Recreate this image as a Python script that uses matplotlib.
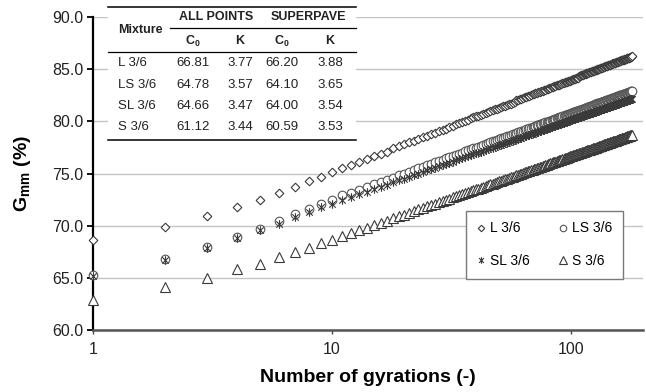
import matplotlib
matplotlib.use('Agg')
import matplotlib.pyplot as plt
from matplotlib.lines import Line2D
from matplotlib.patches import Rectangle
from matplotlib.path import Path

plt.rcParams['font.family'] = ['Liberation Sans', 'DejaVu Sans']
plt.rcParams['mathtext.fontset'] = 'custom'
plt.rcParams['mathtext.rm'] = 'Liberation Sans'
plt.rcParams['mathtext.bf'] = 'Liberation Sans:bold'
plt.rcParams['mathtext.it'] = 'Liberation Sans:italic'

# ---------------- data ----------------
gyrations = list(range(1, 181))

L36 = [68.6, 69.9, 70.9, 71.8, 72.5, 73.1, 73.7, 74.3, 74.7, 75.1, 75.5,
       75.8, 76.1, 76.4, 76.7, 76.9, 77.1, 77.4, 77.6, 77.8,
       78.0, 78.1, 78.3, 78.5, 78.6, 78.8, 78.9, 79.1, 79.2, 79.3,
       79.5, 79.6, 79.7, 79.8, 79.9, 80.0, 80.1, 80.3, 80.4, 80.5,
       80.5, 80.6, 80.7, 80.8, 80.9, 81.0, 81.1, 81.2, 81.2, 81.3,
       81.4, 81.5, 81.5, 81.6, 81.7, 81.7, 81.8, 81.9, 82.0, 82.0,
       82.1, 82.1, 82.2, 82.3, 82.3, 82.4, 82.4, 82.5, 82.6, 82.6,
       82.7, 82.7, 82.8, 82.8, 82.9, 82.9, 83.0, 83.0, 83.1, 83.1,
       83.2, 83.2, 83.3, 83.3, 83.4, 83.4, 83.5, 83.5, 83.5, 83.6,
       83.6, 83.7, 83.7, 83.8, 83.8, 83.8, 83.9, 83.9, 83.9, 84.0,
       84.0, 84.1, 84.1, 84.1, 84.2, 84.2, 84.2, 84.3, 84.3, 84.4,
       84.4, 84.4, 84.5, 84.5, 84.5, 84.6, 84.6, 84.6, 84.7, 84.7,
       84.7, 84.8, 84.8, 84.8, 84.8, 84.9, 84.9, 84.9, 85.0, 85.0,
       85.0, 85.1, 85.1, 85.1, 85.1, 85.2, 85.2, 85.2, 85.3, 85.3,
       85.3, 85.3, 85.4, 85.4, 85.4, 85.4, 85.5, 85.5, 85.5, 85.6,
       85.6, 85.6, 85.6, 85.7, 85.7, 85.7, 85.7, 85.8, 85.8, 85.8,
       85.8, 85.9, 85.9, 85.9, 85.9, 85.9, 86.0, 86.0, 86.0, 86.0,
       86.1, 86.1, 86.1, 86.1, 86.1, 86.2, 86.2, 86.2, 86.2, 86.3]

LS36 = [65.3, 66.8, 67.95, 68.9, 69.7, 70.4, 71.1, 71.6, 72.1, 72.5, 72.9,
        73.16, 73.44, 73.71, 73.96, 74.19, 74.41, 74.61, 74.81, 75.00,
        75.17, 75.34, 75.50, 75.65, 75.80, 75.94, 76.08, 76.20, 76.33, 76.45,
        76.57, 76.69, 76.80, 76.90, 77.01, 77.11, 77.21, 77.31, 77.40, 77.49,
        77.58, 77.67, 77.75, 77.83, 77.91, 77.99, 78.07, 78.15, 78.22, 78.29,
        78.36, 78.43, 78.50, 78.57, 78.63, 78.70, 78.76, 78.83, 78.89, 78.95,
        79.01, 79.07, 79.12, 79.18, 79.24, 79.29, 79.35, 79.40, 79.45, 79.50,
        79.56, 79.61, 79.65, 79.70, 79.75, 79.80, 79.85, 79.89, 79.94, 79.98,
        80.03, 80.07, 80.12, 80.16, 80.20, 80.24, 80.29, 80.33, 80.37, 80.41,
        80.45, 80.49, 80.53, 80.56, 80.60, 80.64, 80.68, 80.72, 80.75, 80.79,
        80.82, 80.86, 80.90, 80.93, 80.96, 81.00, 81.03, 81.06, 81.10, 81.13,
        81.17, 81.19, 81.23, 81.26, 81.29, 81.32, 81.35, 81.39, 81.41, 81.44,
        81.47, 81.50, 81.53, 81.56, 81.59, 81.62, 81.65, 81.68, 81.71, 81.73,
        81.76, 81.79, 81.81, 81.84, 81.87, 81.90, 81.92, 81.95, 81.97, 82.00,
        82.03, 82.05, 82.08, 82.10, 82.13, 82.15, 82.17, 82.20, 82.22, 82.25,
        82.27, 82.30, 82.32, 82.34, 82.36, 82.39, 82.41, 82.44, 82.46, 82.48,
        82.50, 82.53, 82.55, 82.57, 82.59, 82.61, 82.63, 82.66, 82.68, 82.70,
        82.72, 82.74, 82.76, 82.78, 82.80, 82.82, 82.84, 82.86, 82.88, 82.90]

SL36 = [65.2, 66.7, 67.9, 68.8, 69.55, 70.2, 70.8, 71.3, 71.8, 72.1, 72.45,
        72.73, 73.01, 73.27, 73.51, 73.74, 73.94, 74.14, 74.33, 74.51,
        74.68, 74.84, 75.00, 75.15, 75.29, 75.42, 75.56, 75.68, 75.80, 75.92,
        76.04, 76.15, 76.26, 76.36, 76.46, 76.56, 76.65, 76.75, 76.84, 76.92,
        77.01, 77.09, 77.17, 77.25, 77.33, 77.41, 77.48, 77.56, 77.63, 77.70,
        77.77, 77.84, 77.90, 77.97, 78.03, 78.09, 78.16, 78.21, 78.28, 78.33,
        78.39, 78.45, 78.50, 78.56, 78.61, 78.67, 78.72, 78.77, 78.82, 78.87,
        78.92, 78.97, 79.01, 79.06, 79.11, 79.16, 79.20, 79.25, 79.29, 79.34,
        79.38, 79.42, 79.46, 79.51, 79.55, 79.59, 79.63, 79.67, 79.71, 79.75,
        79.78, 79.82, 79.86, 79.90, 79.93, 79.97, 80.01, 80.04, 80.08, 80.11,
        80.15, 80.18, 80.22, 80.25, 80.28, 80.31, 80.35, 80.38, 80.41, 80.44,
        80.48, 80.50, 80.54, 80.57, 80.60, 80.63, 80.66, 80.69, 80.72, 80.74,
        80.78, 80.80, 80.83, 80.86, 80.89, 80.92, 80.94, 80.97, 81.00, 81.03,
        81.05, 81.08, 81.10, 81.13, 81.16, 81.18, 81.21, 81.23, 81.26, 81.28,
        81.31, 81.33, 81.36, 81.38, 81.41, 81.43, 81.45, 81.48, 81.50, 81.52,
        81.55, 81.57, 81.59, 81.61, 81.64, 81.66, 81.68, 81.71, 81.73, 81.75,
        81.77, 81.79, 81.81, 81.83, 81.85, 81.88, 81.90, 81.92, 81.94, 81.96,
        81.98, 82.00, 82.02, 82.04, 82.06, 82.08, 82.10, 82.12, 82.14, 82.16]

S36 = [62.9, 64.1, 65.0, 65.8, 66.35, 67.0, 67.45, 67.9, 68.3, 68.65, 69.0,
       69.28, 69.56, 69.82, 70.06, 70.29, 70.49, 70.69, 70.88, 71.06,
       71.23, 71.39, 71.55, 71.70, 71.84, 71.97, 72.11, 72.23, 72.35, 72.47,
       72.59, 72.70, 72.81, 72.91, 73.01, 73.11, 73.20, 73.30, 73.39, 73.47,
       73.56, 73.64, 73.72, 73.80, 73.88, 73.96, 74.03, 74.11, 74.18, 74.25,
       74.32, 74.39, 74.45, 74.52, 74.58, 74.64, 74.71, 74.76, 74.83, 74.88,
       74.94, 75.00, 75.05, 75.11, 75.16, 75.22, 75.27, 75.32, 75.37, 75.42,
       75.47, 75.52, 75.56, 75.61, 75.66, 75.71, 75.75, 75.80, 75.84, 75.89,
       75.93, 75.97, 76.01, 76.06, 76.10, 76.14, 76.18, 76.22, 76.26, 76.30,
       76.33, 76.37, 76.41, 76.45, 76.48, 76.52, 76.56, 76.59, 76.63, 76.66,
       76.70, 76.73, 76.77, 76.80, 76.83, 76.86, 76.90, 76.93, 76.96, 76.99,
       77.03, 77.05, 77.09, 77.12, 77.15, 77.18, 77.21, 77.24, 77.27, 77.29,
       77.33, 77.35, 77.38, 77.41, 77.44, 77.47, 77.49, 77.52, 77.55, 77.58,
       77.60, 77.63, 77.65, 77.68, 77.71, 77.73, 77.76, 77.78, 77.81, 77.83,
       77.86, 77.88, 77.91, 77.93, 77.96, 77.98, 78.00, 78.03, 78.05, 78.07,
       78.10, 78.12, 78.14, 78.16, 78.19, 78.21, 78.23, 78.26, 78.28, 78.30,
       78.32, 78.34, 78.36, 78.38, 78.40, 78.43, 78.45, 78.47, 78.49, 78.51,
       78.53, 78.55, 78.57, 78.59, 78.61, 78.63, 78.65, 78.67, 78.69, 78.71]

series_names = ['L 3/6', 'LS 3/6', 'SL 3/6', 'S 3/6']

# table contents
mixtures = ['L 3/6', 'LS 3/6', 'SL 3/6', 'S 3/6']
c0_all = ['66.81', '64.78', '64.66', '61.12']
k_all = ['3.77', '3.57', '3.47', '3.44']
c0_sp = ['66.20', '64.10', '64.00', '60.59']
k_sp = ['3.88', '3.65', '3.54', '3.53']

x_ticks = [1, 10, 100]
x_ticklabels = ['1', '10', '100']
y_ticks = [60, 65, 70, 75, 80, 85, 90]

# ---------------- figure ----------------
W, H = 646, 392
fig = plt.figure(figsize=(W / 100, H / 100), dpi=100)
fig.patch.set_facecolor('white')


def fx(px):
    return px / W


def fy(py):
    return 1 - py / H


ax = fig.add_axes([fx(93), fy(330), (643 - 93) / W, (330 - 17) / H])
ax.set_xscale('log')
ax.set_xlim(1, 200)
ax.set_ylim(60, 90)

ax.yaxis.grid(True, color='#c4c4c4', linewidth=1.0)
ax.set_axisbelow(True)

# asterisk marker (x with vertical bar)
ast = Path([(0, -1), (0, 1), (-0.75, -0.75), (0.75, 0.75), (-0.75, 0.75), (0.75, -0.75)],
           [Path.MOVETO, Path.LINETO, Path.MOVETO, Path.LINETO, Path.MOVETO, Path.LINETO])

ec = '#3a3a3a'
styles = [
    dict(marker=(4, 0, 0), ms=6.2, mfc='white', mec=ec),
    dict(marker='o', ms=6.2, mfc='white', mec='#555555'),
    dict(marker=ast, ms=6.2, mfc='none', mec=ec),
    dict(marker='^', ms=6.8, mfc='white', mec=ec),
]
handles = []
for vals, name, st in zip([L36, LS36, SL36, S36], series_names, styles):
    h, = ax.plot(gyrations, vals, linestyle='none', mew=0.8, label=name,
                 clip_on=False, zorder=3, **st)
    handles.append(h)

ax.set_xticks(x_ticks)
ax.set_xticklabels(x_ticklabels)
ax.xaxis.set_minor_locator(matplotlib.ticker.NullLocator())
ax.set_yticks(y_ticks)
ax.set_yticklabels(['%.1f' % v for v in y_ticks])
ax.tick_params(axis='both', labelsize=11.5, colors='#222222', labelcolor='#222222')
ax.tick_params(axis='y', direction='out', length=4, width=1.3, color='black', pad=3)
ax.tick_params(axis='x', direction='out', length=3, width=1.0, color='#444444', pad=6)

for s in ['top', 'right']:
    ax.spines[s].set_visible(False)
ax.spines['left'].set_color('black')
ax.spines['left'].set_linewidth(1.6)
ax.spines['bottom'].set_color('#555555')
ax.spines['bottom'].set_linewidth(1.8)

ax.set_xlabel('Number of gyrations (-)', fontsize=14, fontweight='bold', labelpad=8)
ax.set_ylabel(r'G$_{\mathbf{mm}}$ (%)', fontsize=14, fontweight='bold', labelpad=14)

# legend (row-wise order: L, LS / SL, S)
order = [0, 2, 1, 3]
leg = ax.legend(handles=[handles[i] for i in order],
                labels=[series_names[i] for i in order], ncol=2,
                loc='upper left', mode='expand',
                bbox_to_anchor=(fx(466), fy(275), (623 - 466) / W, (275 - 211) / H),
                bbox_transform=fig.transFigure, borderaxespad=0,
                fontsize=10, frameon=True, fancybox=False, framealpha=1,
                edgecolor='#7a7a7a', handlelength=0.7, handletextpad=0.3,
                labelspacing=1.35, borderpad=0.75, markerscale=0.75, columnspacing=1.0)
leg.get_frame().set_linewidth(1.0)

# ---------------- table ----------------
tl, tr = 108, 356
fig.add_artist(Rectangle((fx(tl), fy(140)), (tr - tl) / W, (140 - 7) / H,
                         transform=fig.transFigure, facecolor='white',
                         edgecolor='none', zorder=5))
for (x0, x1, yy, lw) in [(tl, tr, 7, 1.1), (170, tr, 28, 0.9), (tl, tr, 52, 0.9), (tl, tr, 139.5, 1.1)]:
    fig.add_artist(Line2D([fx(x0), fx(x1)], [fy(yy), fy(yy)], transform=fig.transFigure,
                          color='black', linewidth=lw, zorder=6))

tkw = dict(transform=fig.transFigure, zorder=7, color='#222222')
fig.text(fx(118), fy(30), 'Mixture', ha='left', va='center', fontsize=9, fontweight='bold', **tkw)
fig.text(fx(216), fy(17), 'ALL POINTS', ha='center', va='center', fontsize=9, fontweight='bold', **tkw)
fig.text(fx(308), fy(17), 'SUPERPAVE', ha='center', va='center', fontsize=9, fontweight='bold', **tkw)
col_x = [193, 240, 282, 330]
hdrs = [r'$\mathbf{C_0}$', 'K', r'$\mathbf{C_0}$', 'K']
for cx, hd in zip(col_x, hdrs):
    fig.text(fx(cx), fy(41), hd, ha='center', va='center', fontsize=9, fontweight='bold', **tkw)
row_y = [63.5, 85, 106, 127.5]
for i, ry in enumerate(row_y):
    fig.text(fx(118), fy(ry), mixtures[i], ha='left', va='center', fontsize=9.5, **tkw)
    for cx, col in zip(col_x, [c0_all, k_all, c0_sp, k_sp]):
        fig.text(fx(cx), fy(ry), col[i], ha='center', va='center', fontsize=9.5, **tkw)

fig.savefig('out.png', dpi=100)
